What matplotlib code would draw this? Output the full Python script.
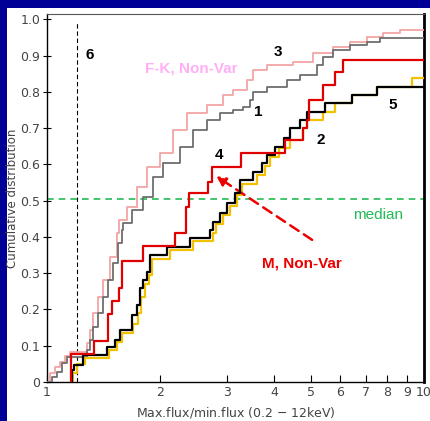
import matplotlib
matplotlib.use('Agg')
import matplotlib.pyplot as plt
from matplotlib.patches import Rectangle
import numpy as np

# step positions (flux ratio) and cumulative level after each step
gray_x = [1.008, 1.029, 1.061, 1.094, 1.128, 1.274, 1.300, 1.327, 1.368, 1.410,
          1.454, 1.499, 1.546, 1.578, 1.594, 1.677, 1.800, 1.914, 2.034, 2.253,
          2.444, 2.652, 2.877, 3.120, 3.311, 3.455, 3.520, 3.834, 4.332, 4.690,
          5.202, 5.396, 5.737, 6.366, 7.061, 7.643]
gray_y = [0.0, 0.015, 0.028, 0.052, 0.070, 0.088, 0.116, 0.153, 0.190, 0.235,
          0.281, 0.327, 0.383, 0.419, 0.438, 0.474, 0.511, 0.566, 0.603, 0.649,
          0.695, 0.723, 0.741, 0.750, 0.759, 0.778, 0.800, 0.814, 0.833, 0.847,
          0.875, 0.897, 0.916, 0.930, 0.938, 0.948]

pink_x = [1.008, 1.018, 1.050, 1.083, 1.116, 1.151, 1.277, 1.300, 1.327, 1.368,
          1.410, 1.469, 1.531, 1.552, 1.627, 1.729, 1.838, 1.994, 2.163, 2.348,
          2.652, 2.935, 3.114, 3.387, 3.520, 3.834, 4.494, 5.076, 5.737, 6.366,
          7.061, 7.784, 8.637]
pink_y = [0.0, 0.024, 0.042, 0.055, 0.072, 0.084, 0.107, 0.143, 0.190, 0.235,
          0.281, 0.346, 0.410, 0.447, 0.484, 0.539, 0.594, 0.631, 0.695, 0.741,
          0.765, 0.792, 0.805, 0.833, 0.861, 0.874, 0.883, 0.907, 0.924, 0.938,
          0.952, 0.962, 0.971]

red_x = [1.156, 1.332, 1.454, 1.490, 1.555, 1.585, 1.800, 2.185, 2.337, 2.385,
         2.679, 2.734, 3.264, 4.280, 4.780, 4.880, 4.960, 5.410, 5.810, 6.110]
red_y = [0.077, 0.113, 0.187, 0.224, 0.258, 0.334, 0.375, 0.410, 0.484, 0.520,
         0.553, 0.594, 0.631, 0.668, 0.700, 0.723, 0.778, 0.819, 0.856, 0.888]

black_x = [1.163, 1.179, 1.248, 1.445, 1.515, 1.562, 1.677, 1.728, 1.765, 1.800,
           1.838, 1.876, 2.077, 2.395, 2.705, 2.760, 2.875, 3.000, 3.150, 3.250,
           3.520, 3.710, 3.830, 4.030, 4.240, 4.410, 4.690, 4.890, 5.470, 6.430,
           7.500]
black_y = [0.033, 0.047, 0.074, 0.097, 0.116, 0.143, 0.185, 0.212, 0.258, 0.281,
           0.304, 0.350, 0.373, 0.396, 0.419, 0.442, 0.465, 0.493, 0.520, 0.557,
           0.580, 0.603, 0.626, 0.649, 0.672, 0.700, 0.723, 0.746, 0.769, 0.792,
           0.815]

yellow_x = [1.174, 1.200, 1.260, 1.460, 1.530, 1.580, 1.690, 1.740, 1.780, 1.820,
            1.860, 1.900, 2.120, 2.440, 2.750, 2.810, 2.930, 3.050, 3.200, 3.300,
            3.600, 3.780, 3.900, 4.120, 4.400, 4.780, 4.900, 5.390, 5.800, 6.430,
            7.500, 9.280]
yellow_y = [0.025, 0.050, 0.065, 0.088, 0.110, 0.135, 0.160, 0.190, 0.235, 0.270,
            0.295, 0.340, 0.365, 0.390, 0.410, 0.435, 0.460, 0.485, 0.515, 0.545,
            0.570, 0.595, 0.620, 0.645, 0.668, 0.700, 0.723, 0.746, 0.769, 0.792,
            0.815, 0.838]

x_ticks = [1, 2, 3, 4, 5, 6, 7, 8, 9, 10]
y_ticks = [0, 0.1, 0.2, 0.3, 0.4, 0.5, 0.6, 0.7, 0.8, 0.9, 1.0]
y_ticklabels = ['0', '0.1', '0.2', '0.3', '0.4', '0.5', '0.6', '0.7', '0.8', '0.9', '1.0']
cut_x = 1.2      # vertical dashed line "6"
median_y = 0.505


def curve(sx, sy):
    # vertical rise from 0 at the first step, flat to x=10 after the last
    return np.r_[sx[0], sx, 10.0], np.r_[0.0, sy, sy[-1]]


fig = plt.figure(figsize=(4.31, 4.21), dpi=100, facecolor='#000096')
panel = Rectangle((7 / 431, 0), 1, 1 - 8 / 421, transform=fig.transFigure,
                  facecolor='white', edgecolor='none', zorder=-10)
fig.add_artist(panel)
ax = fig.add_axes([47 / 431, 39 / 421, 377 / 431, 368 / 421])
ax.set_zorder(1)

ax.step(*curve(pink_x, pink_y), where='post', color='#f2a5a5', lw=1.3, zorder=3)
ax.step(*curve(gray_x, gray_y), where='post', color='#6e6e6e', lw=1.3, zorder=3)
ax.step(*curve(yellow_x, yellow_y), where='post', color='#f2c200', lw=1.6, zorder=3)
ax.step(*curve(black_x, black_y), where='post', color='black', lw=1.6, zorder=4)
ax.step(*curve(red_x, red_y), where='post', color='#e00000', lw=1.6, zorder=5)

ax.plot([cut_x, cut_x], [0, 0.99], color='black', lw=0.8, ls=(0, (4, 2.5)), zorder=2)
ax.axhline(median_y, color='#22bb55', lw=1.2, ls=(0, (4, 3)), zorder=2)

ax.set_xscale('log')
ax.set_xlim(1, 10)
ax.set_ylim(0, 1.015)
ax.set_xticks(x_ticks)
ax.set_xticklabels([str(t) for t in x_ticks])
ax.xaxis.set_minor_locator(matplotlib.ticker.NullLocator())
ax.set_yticks(y_ticks)
ax.set_yticklabels(y_ticklabels)
ax.tick_params(axis='x', direction='in', length=5, labelsize=9, labelcolor='#444444', pad=3)
ax.tick_params(axis='y', direction='inout', length=6, labelsize=9, labelcolor='#444444', pad=2)
ax.tick_params(top=False, right=False)

ax.spines['top'].set_color('#555555')
ax.spines['top'].set_linewidth(0.8)
ax.spines['right'].set_linewidth(2)
ax.spines['left'].set_linewidth(1)
ax.spines['bottom'].set_linewidth(1)

ax.set_xlabel('Max.flux/min.flux (0.2 $-$ 12keV)', fontsize=9, color='#444444', labelpad=4)
ax.set_ylabel('Cumulative distribution', fontsize=8.5, color='#444444', labelpad=0.5)

bold = dict(fontsize=11, fontweight='bold', family='Liberation Sans', ha='center', va='center')
ax.text(1.30, 0.902, '6', color='black', **bold)
ax.text(4.10, 0.910, '3', color='black', **bold)
ax.text(3.63, 0.745, '1', color='black', **bold)
ax.text(5.33, 0.668, '2', color='black', **bold)
ax.text(2.86, 0.626, '4', color='black', **bold)
ax.text(8.28, 0.764, '5', color='black', **bold)
ax.text(2.41, 0.866, 'F-K, Non-Var', color='#ffb0f5', **bold)
ax.text(4.75, 0.328, 'M, Non-Var', color='#ee0000', **bold)
ax.text(7.55, 0.461, 'median', color='#22bb55', fontsize=11, family='Liberation Sans',
        ha='center', va='center')

ax.annotate('', xy=(2.81, 0.568), xytext=(5.05, 0.392),
            arrowprops=dict(arrowstyle='-|>', color='#ee0000', lw=1.8, ls=(0, (4, 2.5)),
                            mutation_scale=14, shrinkA=0, shrinkB=0))

fig.savefig('out.png', dpi=100, facecolor=fig.get_facecolor())
